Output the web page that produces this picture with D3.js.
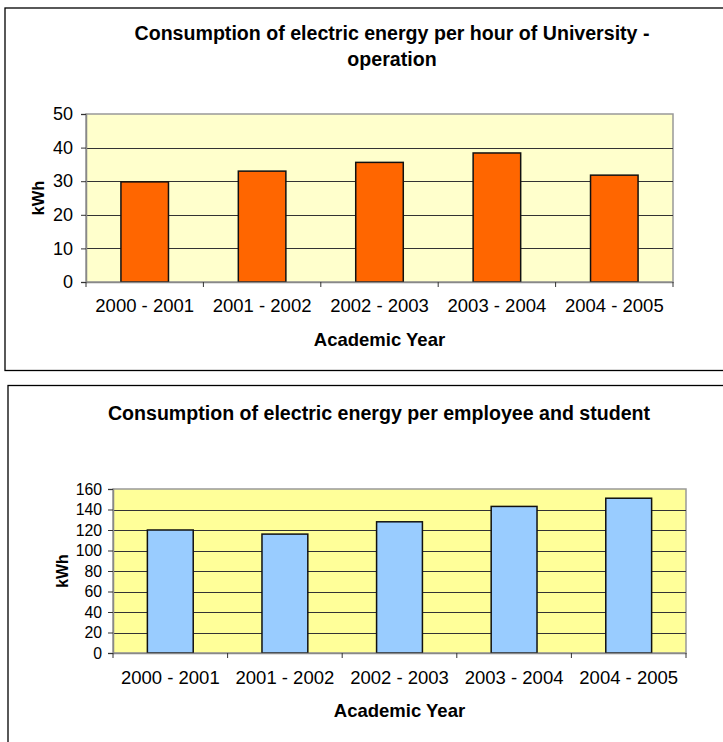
<!DOCTYPE html>
<html><head><meta charset="utf-8">
<script src="https://cdn.jsdelivr.net/npm/d3@7"></script>
<style>
html,body{margin:0;padding:0;background:#fff;}
svg{display:block;font-family:"Liberation Sans",Arial,sans-serif;}
</style></head>
<body>
<svg id="c" width="723" height="742"></svg>
<script>
const years = ["2000 - 2001","2001 - 2002","2002 - 2003","2003 - 2004","2004 - 2005"];
const perHour = [29.8, 33.0, 35.6, 38.4, 31.8];
const perPerson = [120, 116, 128, 143, 151];
const ticks1 = [0,10,20,30,40,50];
const ticks2 = [0,20,40,60,80,100,120,140,160];

const svg = d3.select("#c");
const FF = "Liberation Sans, Arial, sans-serif";

function chart(cfg){
  const g = svg.append("g");
  g.append("rect").attr("x",cfg.box[0]).attr("y",cfg.box[1]).attr("width",cfg.box[2]).attr("height",cfg.box[3])
    .attr("fill","#fff").attr("stroke","#000").attr("stroke-width",1.3);
  const x = d3.scaleBand().domain(years).range([cfg.pl,cfg.pr]).paddingInner(0).paddingOuter(0);
  const y = d3.scaleLinear().domain([0,cfg.max]).range([cfg.pb,cfg.pt]);
  g.append("rect").attr("x",cfg.pl).attr("y",cfg.pt).attr("width",cfg.pr-cfg.pl).attr("height",cfg.pb-cfg.pt)
    .attr("fill",cfg.bg).attr("stroke","#999").attr("stroke-width",1.5);
  g.selectAll(".grid").data(cfg.ticks.filter(t=>t>0 && t<cfg.max)).enter().append("line")
    .attr("x1",cfg.pl).attr("x2",cfg.pr).attr("y1",d=>Math.round(y(d))+0.5).attr("y2",d=>Math.round(y(d))+0.5)
    .attr("stroke","#333").attr("stroke-width",1);
  const bw = x.bandwidth()*cfg.bwr;
  g.selectAll(".bar").data(cfg.values).enter().append("rect")
    .attr("x",(d,i)=>x(years[i])+(x.bandwidth()-bw)/2)
    .attr("y",d=>y(d)).attr("width",bw).attr("height",d=>y(0)-y(d))
    .attr("fill",cfg.color).attr("stroke","#111").attr("stroke-width",1.5);
  const ya = d3.axisLeft(y).tickValues(cfg.ticks).tickSize(5).tickPadding(cfg.ypad);
  const yg = g.append("g").attr("transform",`translate(${cfg.pl},0)`).call(ya);
  yg.attr("font-size",null).attr("font-family",null);
  yg.select(".domain").attr("stroke","#888").attr("stroke-width",1.5);
  yg.selectAll(".tick line").attr("stroke","#333");
  yg.selectAll("text").style("font-size",cfg.yfs+"px").attr("fill","#000").style("font-family",FF);
  const xa = d3.axisBottom(x).tickSize(0).tickPadding(cfg.xpad);
  const xg = g.append("g").attr("transform",`translate(0,${cfg.pb})`).call(xa);
  xg.attr("font-size",null).attr("font-family",null);
  xg.select(".domain").attr("stroke","#888").attr("stroke-width",1.5);
  xg.selectAll("text").style("font-size",cfg.fs+"px").attr("fill","#000").style("font-family",FF);
  const bounds = years.map(d=>x(d)).concat([cfg.pr]);
  g.selectAll(".bt").data(bounds).enter().append("line")
    .attr("x1",d=>d).attr("x2",d=>d).attr("y1",cfg.pb).attr("y2",cfg.pb+5).attr("stroke","#333");
  cfg.title.forEach((t,i)=>{
    g.append("text").attr("x",cfg.tx).attr("y",cfg.ty+i*cfg.tlh).attr("text-anchor","middle")
      .attr("font-weight","bold").style("font-size",cfg.tfs+"px").text(t);
  });
  g.append("text").attr("x",(cfg.pl+cfg.pr)/2).attr("y",cfg.xty).attr("text-anchor","middle")
    .attr("font-weight","bold").style("font-size",cfg.afs+"px").text("Academic Year");
  g.append("text").attr("transform",`translate(${cfg.ytx},${(cfg.pt+cfg.pb)/2}) rotate(-90)`).attr("text-anchor","middle")
    .attr("font-weight","bold").style("font-size",cfg.kfs+"px").text("kWh");
}

chart({box:[5,8,730,362.5], pl:86, pr:673, pt:114, pb:282, max:50, ticks:ticks1, values:perHour,
  bg:"#FFFFCC", color:"#FF6600", bwr:0.405, fs:18.5, yfs:18, xpad:17, ypad:8, tfs:19.6, afs:18.5, kfs:16.5,
  title:["Consumption of electric energy per hour of University -","operation"], tx:392, ty:40, tlh:26,
  xty:346, ytx:43.5});
chart({box:[8,385.5,730,370], pl:113, pr:686, pt:489, pb:653, max:160, ticks:ticks2, values:perPerson,
  bg:"#FFFF99", color:"#99CCFF", bwr:0.40, fs:18.5, yfs:15.8, xpad:18, ypad:6, tfs:19.6, afs:18.5, kfs:15.8,
  title:["Consumption of electric energy per employee and student"], tx:379, ty:420, tlh:25,
  xty:717, ytx:67.5});
</script>
</body></html>
